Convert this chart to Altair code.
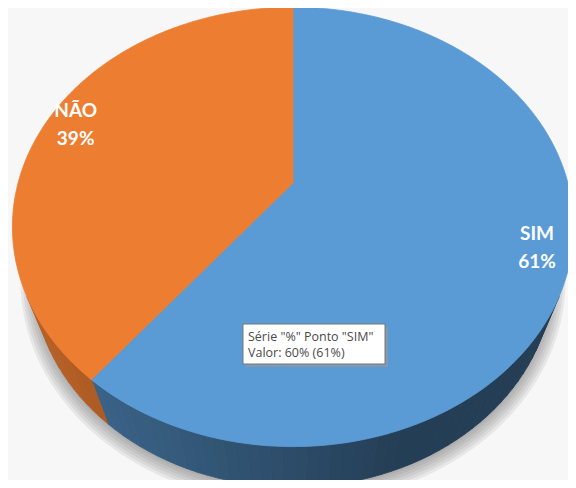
import math
import altair as alt
import pandas as pd

# ---------------- data ----------------
CATEGORIES = ["SIM", "NÃO"]
VALUES = [0.60, 0.39]
SERIES_NAME = "%"
TOOLTIP_POINT = "SIM"

# ---------------- style ----------------
TOP_COLORS = ["#5b9bd5", "#ed7d31"]
SIDE_GAIN = [1.0, 1.15]
FONT = "Lato"
TIP_FONT = "Open Sans"

# 3-D view (pixel space of the picture)
CX, CY = 293.0, 183.0
K = 882.5
DIST = 3.21
PHI = math.radians(50.1)
THICK = 0.313
LABEL_R = 0.885
LINE_H = 28
TIP_X, TIP_Y, TIP_W, TIP_H = 243, 324, 142, 40

W, H = 560, 472
X0, Y0 = 8, 8


def proj(theta_deg, r=1.0, yy=0.0):
    th = math.radians(theta_deg)
    s, c = math.sin(PHI), math.cos(PHI)
    depth = DIST - yy * s + r * c * math.cos(th)
    vu = yy * c + r * s * math.cos(th)
    vx = r * math.sin(th)
    return CX + K * vx / depth, CY - K * vu / depth


def shade(hex_color, f):
    h = hex_color.lstrip("#")
    rgb = [int(h[i:i + 2], 16) for i in (0, 2, 4)]
    return "#" + "".join(f"{max(0, min(255, round(v * f))):02x}" for v in rgb)


total = sum(VALUES)
shares = [v / total for v in VALUES]
bounds = []
acc = 0.0
for sh in shares:
    bounds.append((acc * 360, (acc + sh) * 360))
    acc += sh

# visible range of the side wall
cvis = -1.0 / (DIST * math.cos(PHI))
vis0 = math.degrees(math.acos(cvis))
vis1 = 360 - vis0


def arc_pts(a, b, r=1.0, yy=0.0, step=1.0):
    n = max(2, int(abs(b - a) / step) + 1)
    return [proj(a + (b - a) * k / (n - 1), r, yy) for k in range(n)]


# top faces
top_rows = []
for ci, (cat, (a, b)) in enumerate(zip(CATEGORIES, bounds)):
    pts = [proj(0, 0.0)] + arc_pts(a, b)
    for i, (x, y) in enumerate(pts):
        top_rows.append({"shape": f"top{ci}", "i": i, "x": x, "y": y, "fill": TOP_COLORS[ci]})

# side walls
lx, lz = -0.9, 0.3
ln = math.hypot(lx, lz)
side_rows = []
sid = 0
for ci, (a, b) in enumerate(bounds):
    lo, hi = max(a, vis0), min(b, vis1)
    if hi <= lo:
        continue
    n = max(1, int((hi - lo) / 2.0))
    for k in range(n):
        t0 = lo + (hi - lo) * k / n
        t1 = lo + (hi - lo) * (k + 1) / n
        tm = math.radians((t0 + t1) / 2)
        d = (lx * math.sin(tm) + lz * (-math.cos(tm))) / ln
        f = (0.40 + 0.28 * max(0.0, d)) * SIDE_GAIN[ci]
        col = shade(TOP_COLORS[ci], f)
        pts = [proj(t0), proj(t1), proj(t1, 1.0, -THICK), proj(t0, 1.0, -THICK)]
        for i, (x, y) in enumerate(pts):
            side_rows.append({"shape": f"s{sid:03d}", "i": i, "x": x, "y": y, "fill": col})
        sid += 1

# soft shadow
shadow_rows = []
for k in range(6):
    r = 1.0 + 0.009 * k
    pts = arc_pts(0, 360, r, -THICK, 2.0)
    for i, (x, y) in enumerate(pts):
        shadow_rows.append({"shape": f"sh{k}", "i": i, "x": x, "y": y + 3, "fill": "#6a6a6a"})

# labels
label_rows = []
for cat, sh, (a, b) in zip(CATEGORIES, shares, bounds):
    x, y = proj((a + b) / 2, LABEL_R)
    label_rows.append({"x": x, "y": y, "text": f"{cat}\n{round(sh * 100)}%"})

# tooltip
pi = CATEGORIES.index(TOOLTIP_POINT)
tip_lines = [
    f'Série "{SERIES_NAME}" Ponto "{TOOLTIP_POINT}"',
    f"Valor: {round(VALUES[pi] * 100)}% ({round(shares[pi] * 100)}%)",
]
tip_box = pd.DataFrame([{"x": TIP_X, "x2": TIP_X + TIP_W, "y": TIP_Y, "y2": TIP_Y + TIP_H}])
tip_shadow = pd.DataFrame([{"x": TIP_X + 3, "x2": TIP_X + TIP_W + 3, "y": TIP_Y + 3, "y2": TIP_Y + TIP_H + 3}])
tip_text = pd.DataFrame([
    {"x": TIP_X + 5, "y": TIP_Y + 13, "text": tip_lines[0]},
    {"x": TIP_X + 5, "y": TIP_Y + 29, "text": tip_lines[1]},
])

XS = alt.Scale(domain=[X0, X0 + W], nice=False, zero=False)
YS = alt.Scale(domain=[Y0, Y0 + H], reverse=True, nice=False, zero=False)
X = alt.X("x:Q", scale=XS, axis=None)
Y = alt.Y("y:Q", scale=YS, axis=None)


def poly(rows, opacity=1.0, stroke=True):
    enc = dict(x=X, y=Y, detail="shape:N", order="i:Q",
               color=alt.Color("fill:N", scale=None))
    if stroke:
        enc["stroke"] = alt.Stroke("fill:N", scale=None)
    return alt.Chart(pd.DataFrame(rows)).mark_line(
        filled=True, interpolate="linear-closed",
        strokeWidth=0.8 if stroke else 0, opacity=opacity, clip=True
    ).encode(**enc)


shadow_layer = poly(shadow_rows, opacity=0.11, stroke=False)
side_layer = poly(side_rows)
top_layer = poly(top_rows)

labels = alt.Chart(pd.DataFrame(label_rows)).mark_text(
    font=FONT, fontSize=19, fontWeight="bold", color="white",
    lineBreak="\n", lineHeight=LINE_H, align="center", baseline="middle",
    dy=-LINE_H / 2
).encode(x=X, y=Y, text="text:N")

tshadow = alt.Chart(tip_shadow).mark_rect(color="#9a9a9a", opacity=0.6).encode(
    x=X, x2="x2:Q", y=Y, y2="y2:Q")
tbox = alt.Chart(tip_box).mark_rect(fill="white", stroke="#767676", strokeWidth=1).encode(
    x=X, x2="x2:Q", y=Y, y2="y2:Q")
ttext = alt.Chart(tip_text).mark_text(
    font=TIP_FONT, fontSize=12.5, color="#4a4a4a", align="left", baseline="middle"
).encode(x=X, y=Y, text="text:N")

chart = alt.layer(
    shadow_layer, side_layer, top_layer, labels, tshadow, tbox, ttext
).properties(
    width=W, height=H, padding=0, autosize="none", background="#f7f7f7"
).configure_view(stroke=None)

chart.save("out.html", embed_options={"renderer": "svg", "actions": False})
